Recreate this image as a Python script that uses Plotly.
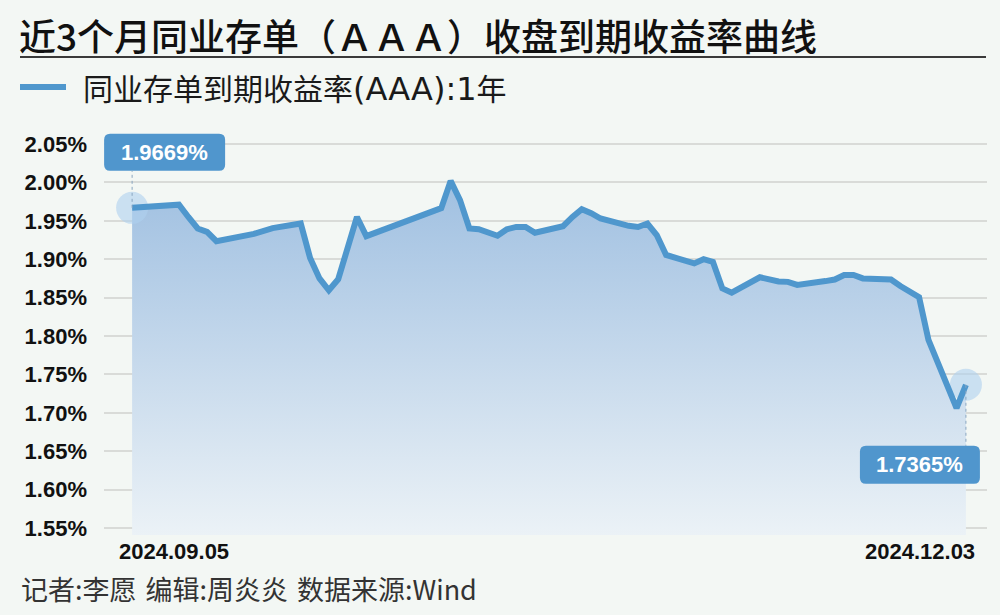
import plotly.graph_objects as go

# ---------------- data ----------------
dates = [
    "2024-09-05", "2024-09-06", "2024-09-09", "2024-09-10", "2024-09-11", "2024-09-12",
    "2024-09-13", "2024-09-14", "2024-09-18", "2024-09-19", "2024-09-20", "2024-09-23",
    "2024-09-24", "2024-09-25", "2024-09-26", "2024-09-27", "2024-09-29", "2024-09-30",
    "2024-10-08", "2024-10-09", "2024-10-10", "2024-10-11", "2024-10-12", "2024-10-14",
    "2024-10-15", "2024-10-16", "2024-10-17", "2024-10-18", "2024-10-21", "2024-10-22",
    "2024-10-23", "2024-10-24", "2024-10-25", "2024-10-28", "2024-10-29", "2024-10-30",
    "2024-10-31", "2024-11-01", "2024-11-04", "2024-11-05", "2024-11-06", "2024-11-07",
    "2024-11-08", "2024-11-11", "2024-11-12", "2024-11-13", "2024-11-14", "2024-11-15",
    "2024-11-18", "2024-11-19", "2024-11-20", "2024-11-21", "2024-11-22", "2024-11-25",
    "2024-11-26", "2024-11-27", "2024-11-28", "2024-11-29", "2024-12-02", "2024-12-03",
]
yields = [
    1.9669, 1.9675, 1.9705, 1.9710, 1.9550, 1.9400,
    1.9355, 1.9235, 1.9330, 1.9360, 1.9405, 1.9465,
    1.9015, 1.8750, 1.8595, 1.8740, 1.9550, 1.9300,
    1.9665, 2.0020, 1.9770, 1.9400, 1.9390, 1.9305,
    1.9390, 1.9420, 1.9420, 1.9345, 1.9430, 1.9550,
    1.9650, 1.9600, 1.9530, 1.9435, 1.9420, 1.9465,
    1.9315, 1.9055, 1.8945, 1.9000, 1.8965, 1.8620,
    1.8565, 1.8765, 1.8735, 1.8710, 1.8705, 1.8665,
    1.8715, 1.8735, 1.8795, 1.8795, 1.8750, 1.8735,
    1.8650, 1.8570, 1.8505, 1.7950, 1.7060, 1.7365,
]
y_ticks = [1.55, 1.60, 1.65, 1.70, 1.75, 1.80, 1.85, 1.90, 1.95, 2.00, 2.05]
y_tick_labels = ["1.55%", "1.60%", "1.65%", "1.70%", "1.75%", "1.80%",
                 "1.85%", "1.90%", "1.95%", "2.00%", "2.05%"]
x_labels = ["2024.09.05", "2024.12.03"]
title_text = "近3个月同业存单（ＡＡＡ）收盘到期收益率曲线"
legend_cjk = "同业存单到期收益率"
legend_latin = "(AAA):1"
legend_tail = "年"
footer_text = "记者:李愿&#8196;编辑:周炎炎&#8196;数据来源:Wind"

# ---------------- layout constants ----------------
W, H = 1000, 615
ML, MR, MT, MB = 104, 13, 130, 80
PW, PH = W - ML - MR, H - MT - MB
BG = "#f3f7f4"
LINE = "#4f97cd"
BOX = "#5096cd"
CJK = "Noto Sans CJK SC"
NUM = "Liberation Sans, Arial, sans-serif"


def px_x(p):
    return (p - ML) / PW


def px_y(p):
    return (H - MB - p) / PH


def rrect(x0, y0, x1, y1, r):
    return (f"M{x0+r},{y0} L{x1-r},{y0} Q{x1},{y0} {x1},{y0+r} "
            f"L{x1},{y1-r} Q{x1},{y1} {x1-r},{y1} L{x0+r},{y1} "
            f"Q{x0},{y1} {x0},{y1-r} L{x0},{y0+r} Q{x0},{y0} {x0+r},{y0} Z")


fig = go.Figure()

# gradient area
fig.add_trace(go.Scatter(
    x=dates, y=yields, mode="lines", line=dict(width=0, color=LINE),
    fill="tozeroy",
    fillgradient=dict(type="vertical", start=1.53, stop=2.0,
                      colorscale=[[0, "rgba(237,243,247,1)"], [1, "rgba(160,192,225,1)"]]),
    hoverinfo="skip", showlegend=False,
))
# halos at endpoints
fig.add_trace(go.Scatter(
    x=[dates[0], dates[-1]], y=[yields[0], yields[-1]], mode="markers",
    marker=dict(size=32, color="rgba(175,208,238,0.6)", line=dict(width=0)),
    hoverinfo="skip", showlegend=False,
))
# main line
fig.add_trace(go.Scatter(
    x=dates, y=yields, mode="lines", line=dict(width=6, color=LINE),
    name=legend_cjk + legend_latin + legend_tail, showlegend=False,
))

shapes = []
annotations = []

# title underline
shapes.append(dict(type="line", xref="paper", yref="paper",
                   x0=px_x(20), x1=px_x(986), y0=px_y(57), y1=px_y(57),
                   line=dict(color="#3a3a3a", width=2)))
# legend sample line
shapes.append(dict(type="line", xref="paper", yref="paper",
                   x0=px_x(20), x1=px_x(66), y0=px_y(87), y1=px_y(87),
                   line=dict(color=LINE, width=6)))

# value boxes: box offsets in px relative to the point (left, bottom, right, top)
for idx, (bx0, by0, bx1, by1) in [(0, (-28, 37, 93, 74)), (-1, (-106, -99, 14, -61))]:
    xd, yv = dates[idx], yields[idx]
    shapes.append(dict(type="path", xref="x", yref="y", xsizemode="pixel", ysizemode="pixel",
                       xanchor=xd, yanchor=yv, path=rrect(bx0, by0, bx1, by1, 6),
                       fillcolor=BOX, line=dict(width=0), layer="above"))
    conn_end = by0 if by0 > 0 else by1
    shapes.append(dict(type="line", xref="x", yref="y", ysizemode="pixel", yanchor=yv,
                       x0=xd, x1=xd, y0=0, y1=conn_end,
                       line=dict(color="#8aa6c0", width=1, dash="dot"), layer="above"))
    annotations.append(dict(xref="x", yref="y", x=xd, y=yv, showarrow=False,
                            xshift=(bx0 + bx1) / 2, yshift=(by0 + by1) / 2,
                            xanchor="center", yanchor="middle",
                            text=f"{yv:.4f}%",
                            font=dict(family=NUM, size=22, color="white", weight="bold")))

# x axis end labels
annotations.append(dict(xref="x", yref="paper", x=dates[0], y=0, yshift=-16,
                        xanchor="left", yanchor="middle", xshift=-15, showarrow=False,
                        text=x_labels[0], font=dict(family=NUM, size=22, color="#111", weight="bold")))
annotations.append(dict(xref="x", yref="paper", x=dates[-1], y=0, yshift=-16,
                        xanchor="right", yanchor="middle", xshift=11, showarrow=False,
                        text=x_labels[1], font=dict(family=NUM, size=22, color="#111", weight="bold")))
# legend text
legend_html = (legend_cjk
               + f"<span style='font-family:DejaVu Sans;font-size:32px'>{legend_latin}</span>"
               + legend_tail)
annotations.append(dict(xref="paper", yref="paper", x=px_x(81), y=px_y(87),
                        xanchor="left", yanchor="middle", showarrow=False,
                        text=legend_html, font=dict(family=CJK, size=30, color="#1a1a1a")))
# footer
annotations.append(dict(xref="paper", yref="paper", x=px_x(19), y=px_y(588),
                        xanchor="left", yanchor="middle", showarrow=False,
                        text=footer_text, font=dict(family=CJK, size=27, color="#333")))

px_per_unit = 768.0
y_top = 2.05 + (144 - MT) / px_per_unit
y_bot = y_top - PH / px_per_unit

fig.update_layout(
    width=W, height=H,
    margin=dict(l=ML, r=MR, t=MT, b=MB),
    paper_bgcolor=BG, plot_bgcolor=BG,
    title=dict(text=title_text, xref="container", yref="container",
               x=19 / W, y=1 - 38 / H, xanchor="left", yanchor="middle",
               font=dict(family=CJK, size=37, color="#111", weight=500)),
    xaxis=dict(type="date", range=["2024-09-02", "2024-12-05 06:00"],
               showgrid=False, showticklabels=False, zeroline=False, showline=False, ticks=""),
    yaxis=dict(range=[y_bot, y_top], tickvals=y_ticks, ticktext=y_tick_labels,
               showgrid=True, gridcolor="#d9dbd8", gridwidth=1.5, zeroline=False,
               showline=False, ticks="", ticklabelstandoff=16,
               tickfont=dict(family=NUM, size=22, color="#111", weight="bold")),
    shapes=shapes, annotations=annotations,
    hovermode=False,
)

fig.write_html("out.html", config={"displayModeBar": False},
               post_script="document.body.style.margin='0';")
